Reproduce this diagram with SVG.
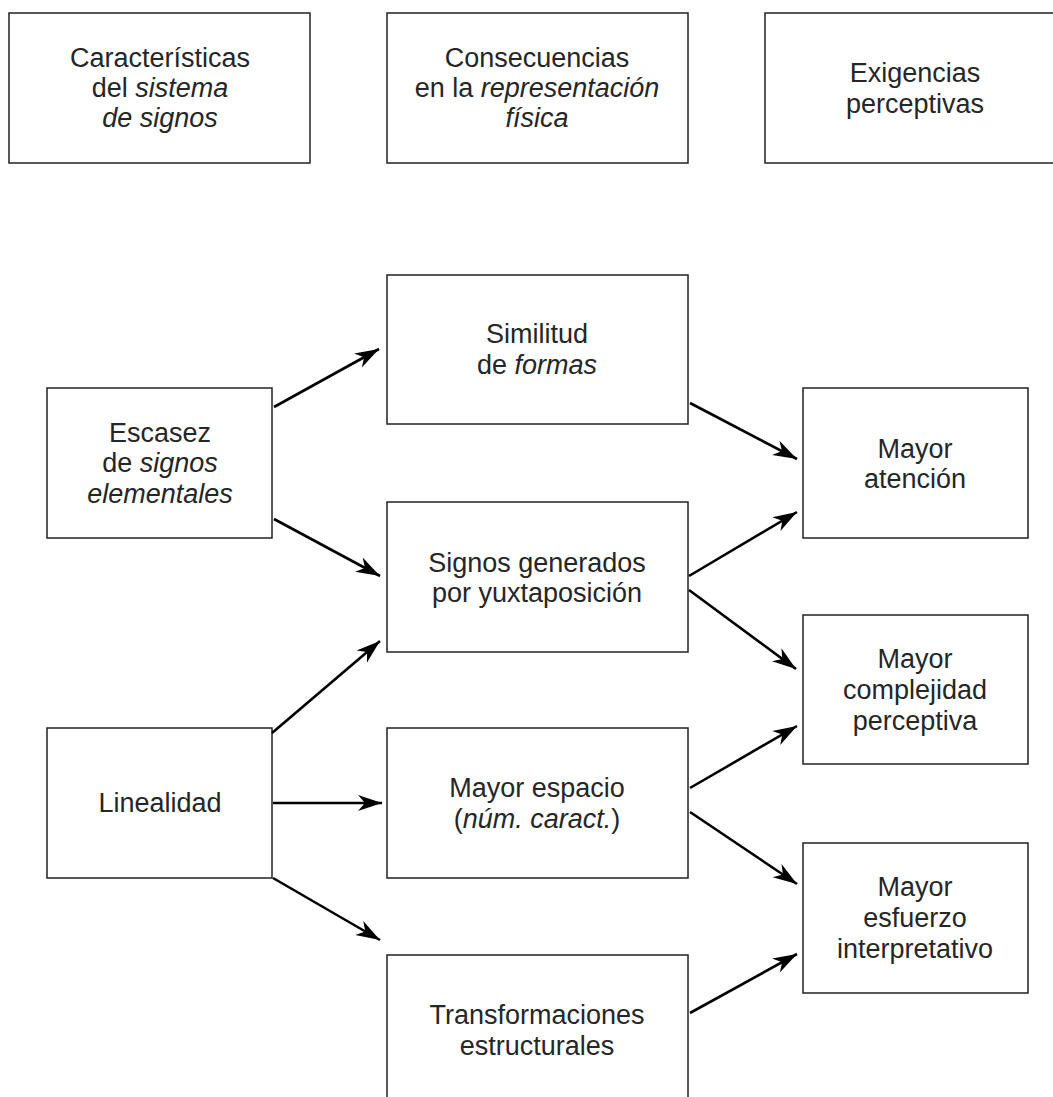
<svg xmlns="http://www.w3.org/2000/svg" width="1053" height="1097" viewBox="0 0 1053 1097">
<style>
.box{fill:#fff;stroke:#222;stroke-width:1.5}
.t{font-family:"Liberation Sans",Arial,sans-serif;font-size:27px;fill:#262626;text-anchor:middle}
.i{font-style:italic}
.c{fill:none;stroke:#000;stroke-width:2.6;marker-end:url(#ah)}
</style>
<defs>
<marker id="ah" markerUnits="userSpaceOnUse" markerWidth="26" markerHeight="18" viewBox="0 0 26 18" refX="24" refY="9" orient="auto">
<path d="M0,1 L24,9 L0,17 L7,9 z" fill="#000"/>
</marker>
</defs>
<rect width="1053" height="1097" fill="#fff"/>

<g id="h1"><rect class="box" x="9" y="13" width="301" height="150"/>
<text class="t" x="160" y="67">Características</text>
<text class="t" x="160" y="97">del <tspan class="i">sistema</tspan></text>
<text class="t" x="160" y="127"><tspan class="i">de signos</tspan></text></g>

<g id="h2"><rect class="box" x="387" y="13" width="301" height="150"/>
<text class="t" x="537" y="67">Consecuencias</text>
<text class="t" x="537" y="97">en la <tspan class="i">representación</tspan></text>
<text class="t" x="537" y="127"><tspan class="i">física</tspan></text></g>

<g id="h3"><rect class="box" x="765" y="13" width="310" height="150"/>
<text class="t" x="915" y="82">Exigencias</text>
<text class="t" x="915" y="113">perceptivas</text></g>

<g id="escasez"><rect class="box" x="47" y="388" width="225" height="150"/>
<text class="t" x="160" y="442">Escasez</text>
<text class="t" x="160" y="472">de <tspan class="i">signos</tspan></text>
<text class="t" x="160" y="503"><tspan class="i">elementales</tspan></text></g>

<g id="linealidad"><rect class="box" x="47" y="728" width="225" height="150"/>
<text class="t" x="160" y="812">Linealidad</text></g>

<g id="similitud"><rect class="box" x="387" y="275" width="301" height="149"/>
<text class="t" x="537" y="343">Similitud</text>
<text class="t" x="537" y="374">de <tspan class="i">formas</tspan></text></g>

<g id="signos"><rect class="box" x="387" y="502" width="301" height="150"/>
<text class="t" x="537" y="572">Signos generados</text>
<text class="t" x="537" y="602">por yuxtaposición</text></g>

<g id="espacio"><rect class="box" x="387" y="728" width="301" height="150"/>
<text class="t" x="537" y="797">Mayor espacio</text>
<text class="t" x="537" y="828">(<tspan class="i">núm. caract.</tspan>)</text></g>

<g id="transform"><rect class="box" x="387" y="955" width="301" height="160"/>
<text class="t" x="537" y="1024">Transformaciones</text>
<text class="t" x="537" y="1055">estructurales</text></g>

<g id="atencion"><rect class="box" x="803" y="388" width="225" height="150"/>
<text class="t" x="915" y="458">Mayor</text>
<text class="t" x="915" y="488">atención</text></g>

<g id="complejidad"><rect class="box" x="803" y="615" width="225" height="149"/>
<text class="t" x="915" y="668">Mayor</text>
<text class="t" x="915" y="699">complejidad</text>
<text class="t" x="915" y="730">perceptiva</text></g>

<g id="esfuerzo"><rect class="box" x="803" y="843" width="225" height="150"/>
<text class="t" x="915" y="896">Mayor</text>
<text class="t" x="915" y="927">esfuerzo</text>
<text class="t" x="915" y="958">interpretativo</text></g>

<g id="connectors">
<line class="c" x1="274" y1="407" x2="379" y2="349"/>
<line class="c" x1="274" y1="519" x2="380" y2="576"/>
<line class="c" x1="690" y1="403" x2="797" y2="459"/>
<line class="c" x1="689" y1="576" x2="797" y2="512"/>
<line class="c" x1="689" y1="590" x2="796" y2="669"/>
<line class="c" x1="272" y1="733" x2="380" y2="641"/>
<line class="c" x1="273" y1="803" x2="382" y2="803"/>
<line class="c" x1="273" y1="878" x2="380" y2="940"/>
<line class="c" x1="690" y1="788" x2="797" y2="726"/>
<line class="c" x1="690" y1="812" x2="797" y2="884"/>
<line class="c" x1="690" y1="1013" x2="797" y2="954"/>
</g>
</svg>
